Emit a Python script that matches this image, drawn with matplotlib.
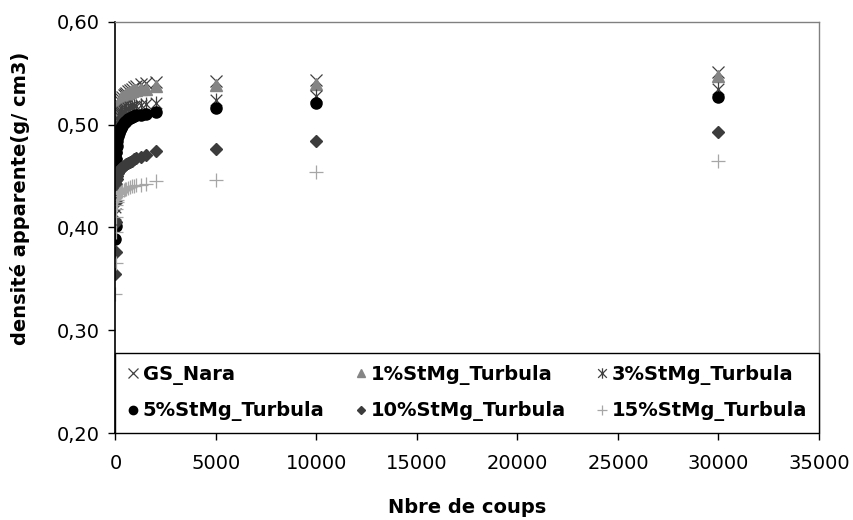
import matplotlib
matplotlib.use("Agg")
import matplotlib.pyplot as plt
from matplotlib.path import Path
from matplotlib.ticker import FuncFormatter, MultipleLocator

# nombre de coups
coups = [0, 10, 20, 30, 40, 50, 75, 100, 150, 200, 250, 300, 350, 400, 450,
         500, 600, 700, 800, 900, 1000, 1250, 1500, 2000, 5000, 10000, 30000]

gs_nara = [0.413, 0.440, 0.462, 0.478, 0.490, 0.498, 0.506, 0.511, 0.516, 0.520,
           0.523, 0.525, 0.527, 0.529, 0.530, 0.531, 0.533, 0.534, 0.535, 0.536,
           0.537, 0.539, 0.540, 0.541, 0.542, 0.543, 0.551]
stmg_1 = [0.437, 0.463, 0.482, 0.494, 0.501, 0.506, 0.511, 0.515, 0.519, 0.522,
          0.524, 0.526, 0.527, 0.528, 0.529, 0.530, 0.531, 0.532, 0.533, 0.534,
          0.534, 0.535, 0.535, 0.537, 0.538, 0.539, 0.547]
stmg_3 = [0.420, 0.447, 0.466, 0.478, 0.486, 0.491, 0.497, 0.501, 0.505, 0.508,
          0.510, 0.511, 0.512, 0.513, 0.514, 0.515, 0.516, 0.517, 0.517, 0.518,
          0.518, 0.519, 0.520, 0.521, 0.524, 0.528, 0.535]
stmg_5 = [0.389, 0.401, 0.440, 0.457, 0.466, 0.473, 0.479, 0.484, 0.489, 0.492,
          0.495, 0.497, 0.499, 0.501, 0.502, 0.503, 0.505, 0.506, 0.507, 0.508,
          0.509, 0.509, 0.510, 0.512, 0.516, 0.521, 0.527]
stmg_10 = [0.355, 0.376, 0.405, 0.425, 0.436, 0.442, 0.447, 0.450, 0.453, 0.455,
           0.457, 0.458, 0.459, 0.460, 0.461, 0.462, 0.463, 0.464, 0.465, 0.466,
           0.467, 0.468, 0.470, 0.474, 0.476, 0.484, 0.493]
stmg_15 = [0.335, 0.365, 0.395, 0.410, 0.418, 0.422, 0.425, 0.427, 0.430, 0.432,
           0.433, 0.434, 0.435, 0.436, 0.437, 0.437, 0.438, 0.439, 0.440, 0.440,
           0.441, 0.441, 0.442, 0.445, 0.446, 0.454, 0.465]

# marqueur "étoile" d'Excel : X + trait vertical
star = Path([(-1, -1), (1, 1), (-1, 1), (1, -1), (0, -1.2), (0, 1.2)],
            [Path.MOVETO, Path.LINETO, Path.MOVETO, Path.LINETO, Path.MOVETO, Path.LINETO])

plt.rcParams['font.family'] = ['DejaVu Sans']

fig = plt.figure(figsize=(8.54, 5.2), dpi=100)
ax = fig.add_axes([0.1352, 0.1673, 0.8238, 0.7910])

h1, = ax.plot(coups, gs_nara, ls='none', marker='x', ms=9, mew=0.9, color='#404040', label='GS_Nara')
h2, = ax.plot(coups, stmg_1, ls='none', marker='^', ms=8, color='#858585', mec='#858585', label='1%StMg_Turbula')
h3, = ax.plot(coups, stmg_3, ls='none', marker=star, ms=10, mew=0.9, color='#404040', label='3%StMg_Turbula')
h4, = ax.plot(coups, stmg_5, ls='none', marker='o', ms=8, color='black', label='5%StMg_Turbula')
h5, = ax.plot(coups, stmg_10, ls='none', marker='D', ms=6, color='#3c3c3c', label='10%StMg_Turbula')
h6, = ax.plot(coups, stmg_15, ls='none', marker='+', ms=10, mew=0.9, color='#a6a6a6', label='15%StMg_Turbula')

ax.set_xlim(0, 35000)
ax.set_ylim(0.20, 0.60)
ax.xaxis.set_major_locator(MultipleLocator(5000))
ax.yaxis.set_major_locator(MultipleLocator(0.10))
ax.yaxis.set_major_formatter(FuncFormatter(lambda v, p: f"{v:.2f}".replace('.', ',')))
ax.tick_params(direction='out', length=5, width=1, labelsize=14, pad=6)
ax.tick_params(axis='x', pad=10)

for s in ['left', 'bottom']:
    ax.spines[s].set_color('black')
    ax.spines[s].set_linewidth(1.2)
for s in ['top', 'right']:
    ax.spines[s].set_color('#808080')
    ax.spines[s].set_linewidth(1)

ax.set_xlabel('Nbre de coups', fontsize=14, fontweight='bold', labelpad=18)
ax.set_ylabel('densité apparente(g/ cm3)', fontsize=14, fontweight='bold')
ax.yaxis.set_label_coords(-0.122, 0.57)

# légende en bas du graphe, 2 lignes x 3 colonnes
order = [h1, h4, h2, h5, h3, h6]
leg = ax.legend(order, [h.get_label() for h in order],
                ncol=3, loc='lower left', bbox_to_anchor=(0, 0, 1, 0.192), mode='expand',
                prop={'weight': 'bold', 'size': 14}, frameon=True, fancybox=False,
                edgecolor='black', framealpha=1, borderaxespad=0, handlelength=0.6,
                handletextpad=0.2, markerscale=0.75, labelspacing=0.85, borderpad=0.6)
leg.get_frame().set_linewidth(1)

fig.savefig('out.png', dpi=100)
